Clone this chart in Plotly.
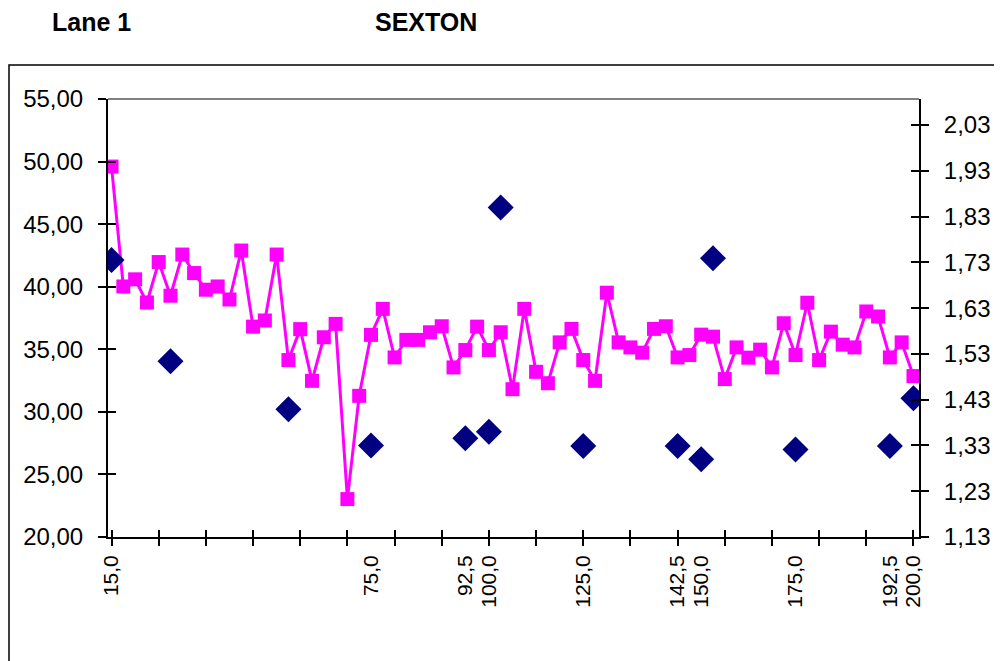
import plotly.graph_objects as go

# ---- data ----
point_index = list(range(69))  # category positions (69 measurements)
speed_values = [
    49.60, 40.02, 40.59, 38.74, 41.97, 39.28, 42.57, 41.09, 39.76, 40.02,
    38.98, 42.89, 36.81, 37.30, 42.57, 34.14, 36.61, 32.48, 35.96, 37.03,
    23.03, 31.28, 36.15, 38.23, 34.35, 35.75, 35.75, 36.36, 36.84, 33.55,
    34.94, 36.81, 34.94, 36.36, 31.81, 38.23, 33.20, 32.29, 35.55, 36.63,
    34.14, 32.48, 39.52, 35.55, 35.15, 34.73, 36.63, 36.84, 34.35, 34.54,
    36.17, 36.01, 32.62, 35.15, 34.33, 34.97, 33.55, 37.08, 34.54, 38.72,
    34.14, 36.41, 35.37, 35.15, 38.02, 37.62, 34.35, 35.55, 32.86,
]
diamond_index = [0, 5, 15, 22, 30, 32, 33, 40, 48, 50, 51, 58, 66, 68]
diamond_values = [1.735, 1.514, 1.409, 1.330, 1.346, 1.360, 1.850, 1.329,
                  1.329, 1.300, 1.739, 1.321, 1.329, 1.433]

label_index = [0, 22, 30, 32, 40, 48, 50, 58, 66, 68]
label_text = ["15,0", "75,0", "92,5", "100,0", "125,0", "142,5", "150,0",
              "175,0", "192,5", "200,0"]
tick_mark_index = list(range(0, 69, 4))

left_ticks = [20, 25, 30, 35, 40, 45, 50, 55]
right_ticks = [1.13, 1.23, 1.33, 1.43, 1.53, 1.63, 1.73, 1.83, 1.93, 2.03]

title_left = "Lane 1"
title_right = "SEXTON"

# ---- layout geometry (page body adds an 8px offset) ----
OFF = 8
W, H = 1002, 661
PL, PR, PT, PB = 108, 919, 99, 537   # plot area in screen pixels
L = PL - OFF
T = PT - OFF
pw, ph = PR - PL, PB - PT
R = W - L - pw
B = H - T - ph

def px_x(px):
    return (px - PL) / pw

def px_y(py):
    return (PB - py) / ph

FONT = "Arial, Liberation Sans, sans-serif"
xr = [-0.3, 68.47]
yr = [20, 55]
y2r = [1.13, 2.087]

fig = go.Figure()
fig.add_trace(go.Scatter(
    x=point_index, y=speed_values, mode="lines+markers",
    line=dict(color="#FF00FF", width=3),
    marker=dict(symbol="square", size=14, color="#FF00FF"),
    xaxis="x", yaxis="y", showlegend=False, hoverinfo="skip",
))
fig.add_trace(go.Scatter(
    x=diamond_index, y=diamond_values, mode="markers",
    marker=dict(symbol="diamond", size=20, color="#000080"),
    xaxis="x", yaxis="y2", showlegend=False, hoverinfo="skip",
))
# empty traces so that the overlay axes (extra ticks / labels) get drawn
for xa, ya in [("x3", "y"), ("x4", "y"), ("x", "y3"), ("x", "y4")]:
    fig.add_trace(go.Scatter(x=[], y=[], xaxis=xa, yaxis=ya, mode="markers",
                             showlegend=False, hoverinfo="skip"))

tickfont_y = dict(family=FONT, size=24, color="black")
tickfont_x = dict(family=FONT, size=21, color="black")

fig.update_layout(
    width=W, height=H,
    margin=dict(l=L, r=R, t=T, b=B, pad=0),
    paper_bgcolor="white", plot_bgcolor="white",
    separators=",.",
    showlegend=False,
    xaxis=dict(range=xr, tickmode="array", tickvals=tick_mark_index,
               ticks="outside", ticklen=7, tickwidth=1.5, tickcolor="black",
               showticklabels=False, showline=True, linecolor="black",
               linewidth=2, showgrid=False, zeroline=False, anchor="y",
               automargin=False),
    xaxis3=dict(range=xr, overlaying="x", anchor="y", tickmode="array",
                tickvals=tick_mark_index, ticks="inside", ticklen=7,
                tickwidth=1.5, tickcolor="black", showticklabels=False,
                showline=False, showgrid=False, zeroline=False,
                automargin=False),
    xaxis4=dict(range=xr, overlaying="x", anchor="y", tickmode="array",
                tickvals=label_index, ticktext=label_text, ticks="",
                tickangle=-90, tickfont=tickfont_x, ticklabelstandoff=13,
                showline=False, showgrid=False, zeroline=False,
                automargin=False),
    yaxis=dict(range=yr, tickmode="array", tickvals=left_ticks,
               tickformat=".2f", ticks="outside", ticklen=8, tickwidth=1.5,
               tickcolor="black", tickfont=tickfont_y, ticklabelstandoff=10,
               showline=True, linecolor="black", linewidth=2,
               showgrid=False, zeroline=False, anchor="x", automargin=False),
    yaxis3=dict(range=yr, overlaying="y", side="left", anchor="x",
                tickmode="array", tickvals=left_ticks, ticks="inside",
                ticklen=8, tickwidth=1.5, tickcolor="black",
                showticklabels=False, showline=False, showgrid=False,
                zeroline=False, automargin=False),
    yaxis2=dict(range=y2r, overlaying="y", side="right", anchor="x",
                tickmode="array", tickvals=right_ticks, tickformat=".2f",
                ticks="outside", ticklen=8, tickwidth=1.5, tickcolor="black",
                tickfont=tickfont_y, ticklabelstandoff=10,
                showline=True, linecolor="black", linewidth=2,
                showgrid=False, zeroline=False, automargin=False),
    yaxis4=dict(range=y2r, overlaying="y", side="right", anchor="x",
                tickmode="array", tickvals=right_ticks, ticks="inside",
                ticklen=8, tickwidth=1.5, tickcolor="black",
                showticklabels=False, showline=False, showgrid=False,
                zeroline=False, automargin=False),
    shapes=[
        dict(type="line", xref="paper", yref="paper", x0=0, x1=1, y0=1, y1=1,
             line=dict(color="#808080", width=2), layer="below"),
        dict(type="rect", xref="paper", yref="paper",
             x0=px_x(OFF + 1), x1=px_x(1020), y0=px_y(680), y1=px_y(65),
             line=dict(color="black", width=1.5), layer="below"),
    ],
    annotations=[
        dict(text=f"<b>{title_left}</b>", xref="paper", yref="paper",
             x=px_x(50), y=px_y(22), xanchor="left", yanchor="middle",
             showarrow=False, font=dict(family=FONT, size=25, color="black")),
        dict(text=f"<b>{title_right}</b>", xref="paper", yref="paper",
             x=px_x(373), y=px_y(22), xanchor="left", yanchor="middle",
             showarrow=False, font=dict(family=FONT, size=25, color="black")),
    ],
)

fig.write_html("out.html")
